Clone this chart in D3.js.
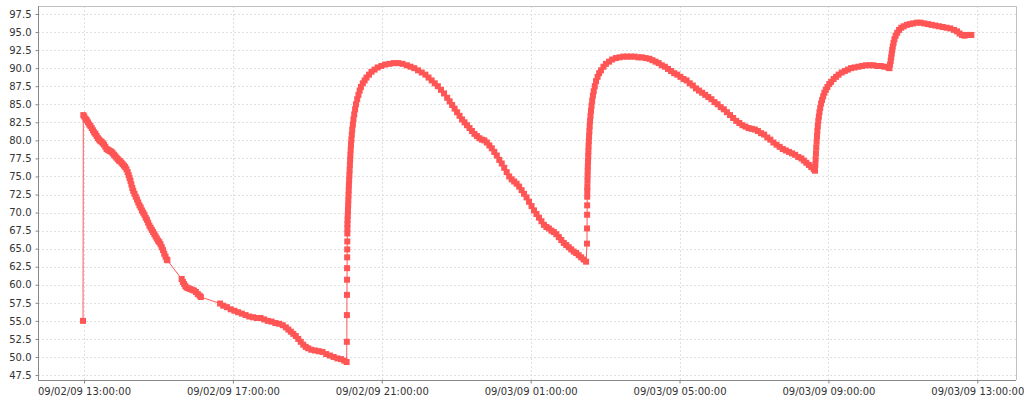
<!DOCTYPE html>
<html>
<head>
<meta charset="utf-8">
<script src="https://cdn.jsdelivr.net/npm/d3@7"></script>
<style>
  html, body { margin: 0; padding: 0; background: #fff; }
  svg { display: block; }
  text { font-family: "DejaVu Sans", sans-serif; font-size: 10px; fill: #333; }
</style>
</head>
<body>
<svg id="chart" width="1024" height="400"></svg>
<script>
// ---- data ----
const seriesStart = "2009-09-02T12:58:24";   // time of first sample
// minutes after seriesStart
const sampleMinutes = [
  0, 0.5, 2, 4, 6, 8, 10, 12, 14, 16, 18, 20, 22, 24, 26, 28, 30, 32, 34, 36, 38, 40, 42, 44, 46, 48,
  50, 52, 54, 56, 58, 60, 62, 64, 66, 68, 70, 72, 73.5, 75, 76.5, 78, 79.5, 81, 83, 85, 87, 89, 91, 93,
  95, 97, 99, 101, 103, 105, 107, 109, 111, 113, 115, 117, 119, 121, 123, 125, 127, 129, 131, 133, 135, 136,
  159, 161, 163, 165, 167, 170, 173, 176, 179, 182, 185, 188, 190,
  221, 226, 232, 238, 244, 250, 256, 262, 268, 274, 280, 286, 292, 298, 304, 310, 316, 322, 327, 331,
  335, 339, 343, 347, 351, 355, 359, 363, 368, 374, 380, 386, 392, 398, 404, 410, 416, 421, 425,
  425.3, 425.4, 425.5, 425.6, 425.7, 425.8, 425.9, 426.0, 426.1, 426.2, 426.3,
  426.5, 426.8, 427.1, 427.4, 427.7, 428.0, 428.3, 428.6, 429.0, 429.4, 429.8, 430.2, 430.6, 431.0,
  431.5, 432.0, 432.6, 433.3, 434.0, 435.0, 436.0, 437.2, 438.6, 440, 442, 444, 446, 448, 451, 454,
  457, 461, 465, 470, 475, 481, 487, 494, 501, 508, 515, 522, 528, 534, 540, 546, 552, 557, 562, 567,
  572, 577, 582, 587, 591, 595, 599, 603, 607, 611, 615, 619, 623, 627, 631, 635, 639, 643, 647, 651,
  655, 659, 663, 667, 671, 675, 679, 683, 687, 691, 695, 699, 703, 707, 711, 715, 719, 723, 727, 731,
  735, 739, 743, 747, 751, 755, 759, 763, 767, 771, 775, 779, 783, 787, 791, 795, 799, 803, 807, 811,
  812.4, 812.5, 812.6, 812.7, 812.8, 812.9,
  813.0, 813.2, 813.4, 813.6, 813.8, 814.1, 814.4, 814.7, 815.0, 815.4, 815.8, 816.3, 816.8, 817.4,
  818.1, 818.9, 819.8, 820.8, 822.0, 823.3, 825, 827, 829.5, 832, 835, 839, 843, 848, 853, 859, 865,
  871, 877, 883, 889, 895, 901, 907, 913, 918, 923, 928, 933, 938, 943, 948, 953, 958, 963, 968, 973,
  978, 983, 988, 993, 998, 1003, 1008, 1013, 1018, 1023, 1028, 1033, 1038, 1043, 1048, 1053, 1058,
  1063, 1068, 1073, 1078, 1083, 1088, 1093, 1098, 1103, 1108, 1113, 1118, 1123, 1128, 1133, 1138,
  1143, 1148, 1153, 1158, 1162, 1166, 1170, 1174, 1178, 1180,
  1180.5, 1181.0, 1181.5, 1182.0, 1182.6, 1183.2, 1183.8, 1184.5, 1185.3, 1186.2, 1187.2, 1188.4,
  1189.8, 1191.4, 1193.2, 1195.2, 1197.5, 1200, 1203, 1206, 1210, 1214, 1218, 1223, 1228, 1233, 1238,
  1244, 1250, 1256, 1262, 1268, 1274, 1280, 1286, 1292, 1298, 1300,
  1301, 1302, 1302.8, 1303.6, 1304.4, 1305.4, 1306.6, 1308, 1310, 1312.5, 1315.5, 1319, 1323, 1328,
  1333, 1338, 1344, 1350, 1356, 1362, 1368, 1374, 1380, 1386, 1392, 1398, 1404, 1409, 1413, 1417,
  1421, 1425, 1429, 1432
];
const sampleValues = [
  55.0, 83.5, 83.3, 83.0, 82.8, 82.5, 82.2, 82.0, 81.7, 81.4, 81.1, 80.9, 80.6, 80.3, 80.1, 79.9, 79.8, 79.6, 79.4, 79.1, 78.8, 78.7, 78.6, 78.5, 78.4, 78.2,
  78.0, 77.8, 77.6, 77.4, 77.2, 77.1, 76.9, 76.7, 76.5, 76.3, 76.0, 75.6, 75.2, 74.8, 74.4, 73.9, 73.4, 73.0, 72.6, 72.2, 71.8, 71.4, 71.0, 70.7,
  70.3, 70.0, 69.7, 69.3, 69.0, 68.6, 68.2, 67.9, 67.6, 67.3, 67.0, 66.7, 66.4, 66.1, 65.9, 65.6, 65.2, 64.8, 64.3, 63.9, 63.5, 63.4,
  60.8, 60.4, 60.1, 59.8, 59.6, 59.5, 59.4, 59.3, 59.2, 59.0, 58.7, 58.5, 58.3,
  57.4, 57.1, 56.9, 56.6, 56.4, 56.2, 56.0, 55.8, 55.6, 55.5, 55.4, 55.4, 55.2, 55.0, 54.9, 54.7, 54.6, 54.4, 54.1, 53.8,
  53.5, 53.2, 52.9, 52.5, 52.1, 51.7, 51.4, 51.2, 51.0, 50.9, 50.8, 50.7, 50.4, 50.2, 50.0, 49.8, 49.7, 49.5, 49.3,
  52.1, 55.8, 58.6, 60.7, 62.3, 63.8, 64.9, 66.0, 67.1, 67.8, 68.4,
  69.0, 69.6, 70.3, 71.0, 71.7, 72.4, 73.1, 73.8, 74.5, 75.2, 75.9, 76.6, 77.3, 78.0,
  78.7, 79.4, 80.1, 80.8, 81.5, 82.2, 82.9, 83.6, 84.3, 85.0, 85.7, 86.3, 86.9, 87.4, 87.9, 88.3,
  88.7, 89.1, 89.5, 89.8, 90.1, 90.3, 90.5, 90.6, 90.7, 90.7, 90.6, 90.4, 90.2, 90.0, 89.7, 89.4, 89.1, 88.7, 88.3, 87.9,
  87.5, 87.0, 86.5, 85.9, 85.4, 84.9, 84.4, 83.9, 83.4, 82.9, 82.5, 82.1, 81.7, 81.3, 80.9, 80.6, 80.3, 80.1, 80.0, 79.7,
  79.3, 78.9, 78.4, 77.9, 77.3, 76.8, 76.2, 75.6, 75.0, 74.6, 74.3, 74.0, 73.6, 73.1, 72.6, 72.1, 71.5, 70.9, 70.3, 69.8,
  69.3, 68.8, 68.3, 68.0, 67.8, 67.5, 67.3, 67.0, 66.6, 66.2, 65.8, 65.5, 65.2, 64.9, 64.6, 64.4, 64.1, 63.8, 63.5, 63.2,
  65.7, 67.8, 69.7, 71.0, 72.2, 73.0,
  73.6, 74.4, 75.1, 75.8, 76.4, 77.1, 77.8, 78.5, 79.2, 79.9, 80.6, 81.3, 82.0, 82.7,
  83.4, 84.1, 84.8, 85.5, 86.2, 86.8, 87.5, 88.2, 88.8, 89.3, 89.7, 90.2, 90.6, 90.9, 91.2, 91.4, 91.5,
  91.6, 91.6, 91.6, 91.6, 91.5, 91.5, 91.4, 91.3, 91.1, 90.9, 90.7, 90.4, 90.2, 89.9, 89.6, 89.3, 89.1, 88.8, 88.5, 88.3,
  87.9, 87.6, 87.2, 86.9, 86.6, 86.3, 86.0, 85.7, 85.3, 85.0, 84.6, 84.3, 83.9, 83.5, 83.1, 82.7, 82.4,
  82.1, 81.9, 81.7, 81.6, 81.5, 81.3, 81.0, 80.8, 80.4, 80.1, 79.7, 79.4, 79.1, 78.8, 78.6, 78.4,
  78.2, 78.0, 77.7, 77.5, 77.2, 76.9, 76.6, 76.3, 76.0, 75.8,
  76.6, 77.4, 78.2, 79.0, 79.8, 80.6, 81.3, 82.0, 82.7, 83.3, 83.9, 84.5,
  85.1, 85.6, 86.1, 86.6, 87.0, 87.4, 87.8, 88.1, 88.5, 88.8, 89.1, 89.4, 89.6, 89.8, 90.0,
  90.1, 90.2, 90.3, 90.4, 90.4, 90.4, 90.3, 90.3, 90.2, 90.1, 90.0,
  90.5, 91.0, 91.5, 92.0, 92.5, 93.0, 93.5, 94.0, 94.5, 94.9, 95.3, 95.6, 95.8, 96.0,
  96.1, 96.2, 96.3, 96.3, 96.2, 96.1, 96.0, 95.9, 95.8, 95.7, 95.6, 95.5, 95.3, 95.1, 94.8, 94.6,
  94.5, 94.6, 94.6, 94.6
];
const xDomain = ["2009-09-02T11:45:50", "2009-09-03T14:02:24"];
const yDomain = [46.81, 98.61];
const xTickTimes = [
  "2009-09-02T13:00:00", "2009-09-02T17:00:00", "2009-09-02T21:00:00",
  "2009-09-03T01:00:00", "2009-09-03T05:00:00", "2009-09-03T09:00:00", "2009-09-03T13:00:00"
];
const yTickValues = [47.5, 50.0, 52.5, 55.0, 57.5, 60.0, 62.5, 65.0, 67.5, 70.0, 72.5, 75.0,
  77.5, 80.0, 82.5, 85.0, 87.5, 90.0, 92.5, 95.0, 97.5];

// ---- layout ----
const plot = { left: 38, top: 6, right: 1016, bottom: 380 };
const RED = "#ff5555";

const svg = d3.select("#chart");
const start = new Date(seriesStart);
const data = sampleMinutes.map((m, i) => ({ t: new Date(start.getTime() + m * 60000), v: sampleValues[i] }));

const x = d3.scaleTime().domain(xDomain.map(s => new Date(s))).range([plot.left, plot.right]);
const y = d3.scaleLinear().domain(yDomain).range([plot.bottom, plot.top]);
const xTicks = xTickTimes.map(s => new Date(s));
const fmtX = d3.timeFormat("%m/%d/%y %H:%M:%S");

// gridlines
const grid = svg.append("g").attr("stroke", "#e0e0e0").attr("stroke-width", 1).attr("stroke-dasharray", "2,2");
grid.selectAll("line.h").data(yTickValues).join("line")
  .attr("x1", plot.left).attr("x2", plot.right)
  .attr("y1", d => Math.round(y(d)) + 0.5).attr("y2", d => Math.round(y(d)) + 0.5);
grid.selectAll("line.v").data(xTicks).join("line")
  .attr("y1", plot.top).attr("y2", plot.bottom)
  .attr("x1", d => Math.round(x(d)) + 0.5).attr("x2", d => Math.round(x(d)) + 0.5);

// plot outline (top/right)
svg.append("path")
  .attr("d", `M${plot.left},${plot.top + 0.5}H${plot.right + 0.5}V${plot.bottom}`)
  .attr("fill", "none").attr("stroke", "#c0c0c0");

// series line
const line = d3.line().x(d => x(d.t)).y(d => y(d.v));
svg.append("path").datum(data).attr("d", line)
  .attr("fill", "none").attr("stroke", RED).attr("stroke-width", 1);

// markers
svg.append("g").attr("fill", RED).selectAll("rect").data(data).join("rect")
  .attr("x", d => x(d.t) - 3).attr("y", d => y(d.v) - 3)
  .attr("width", 6).attr("height", 6);

// axes
const yAxis = d3.axisLeft(y).tickValues(yTickValues).tickFormat(d3.format(".1f"))
  .tickSizeInner(3).tickSizeOuter(0).tickPadding(4);
const gy = svg.append("g").attr("transform", `translate(${plot.left + 0.5},0)`).call(yAxis);
const xAxis = d3.axisBottom(x).tickValues(xTicks).tickFormat(fmtX)
  .tickSizeInner(3).tickSizeOuter(0).tickPadding(4);
const gx = svg.append("g").attr("transform", `translate(0,${plot.bottom + 0.5})`).call(xAxis);
[gx, gy].forEach(g => {
  g.select(".domain").attr("stroke", "#888");
  g.selectAll(".tick line").attr("stroke", "#888");
  g.selectAll(".tick text").attr("fill", "#333")
    .style("font-family", '"DejaVu Sans", sans-serif').style("font-size", "10px");
});
gy.select(".domain").attr("d", `M0,${plot.top}V${plot.bottom}`);
gx.select(".domain").attr("d", `M${plot.left},0H${plot.right}`);
</script>
</body>
</html>
